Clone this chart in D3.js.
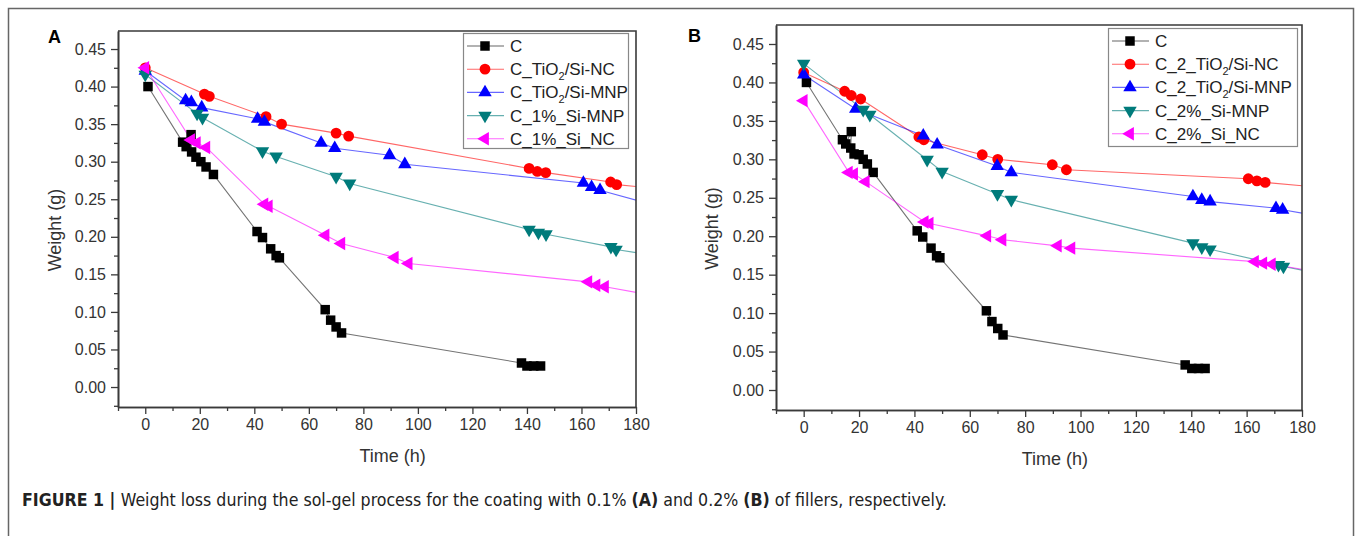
<!DOCTYPE html>
<html lang="en">
<head>
<meta charset="utf-8">
<title>Weight loss during the sol-gel process</title>
<script src="https://cdn.jsdelivr.net/npm/d3@7"></script>
<style>
  body { margin: 0; background: #fff; }
  svg { display: block; font-family: "Liberation Sans", Arial, sans-serif; }
</style>
</head>
<body>
<script>
// ---- data (time in h, weight in g) ----
// points past t=180 are off the plot; they only carry the line to the frame edge
var seriesColors = ["#000000", "#ff0000", "#0000ff", "#007b7b", "#ff00ff"];
var seriesSymbols = ["square", "circle", "up", "down", "left"];

var labelsA = ["C", "C_TiO{2}/Si-NC", "C_TiO{2}/Si-MNP", "C_1%_Si-MNP", "C_1%_Si_NC"];
var labelsB = ["C", "C_2_TiO{2}/Si-NC", "C_2_TiO{2}/Si-MNP", "C_2%_Si-MNP", "C_2%_Si_NC"];

var A_C = [[1,0.400],[13.7,0.326],[15,0.320],[16.8,0.336],[17,0.313],[18.6,0.306],[20.4,0.300],
           [22.3,0.293],[25,0.283],[41,0.207],[43,0.199],[46,0.184],[48,0.175],[49.2,0.172],
           [66,0.103],[68,0.089],[70,0.080],[72,0.072],[138,0.032],[140,0.028],[142.5,0.028],[145,0.028]];
var A_TiO2_NC = [[0,0.425],[21.7,0.390],[23.5,0.387],[44.3,0.360],[50,0.350],[70,0.338],[74.6,0.334],
                 [140.8,0.291],[143.8,0.287],[146.9,0.2855],[170.7,0.273],[172.9,0.2695],[190,0.2635]];
var A_TiO2_MNP = [[0,0.421],[14.8,0.3816],[16.9,0.379],[20.7,0.372],[41.2,0.357],[43.7,0.353],
                  [64.5,0.325],[69.5,0.318],[89.6,0.3085],[95.2,0.2965],[160.7,0.2717],[163.7,0.266],
                  [166.8,0.262],[190,0.239]];
var A_1_MNP = [[0,0.416],[19,0.364],[21,0.3586],[43,0.314],[48,0.307],[70,0.280],[75,0.271],
               [140.8,0.2097],[144.2,0.2057],[147,0.2035],[170.8,0.1866],[172.7,0.183],[190,0.1735]];
var A_1_NC = [[0,0.425],[16.8,0.329],[18.9,0.325],[22.4,0.319],[43.7,0.2434],[45.3,0.2407],
              [66.1,0.202],[71.9,0.191],[91.5,0.1725],[96.6,0.1645],[162.5,0.140],[165.5,0.1356],
              [168.6,0.1334],[190,0.1195]];

var B_C = [[1,0.400],[14,0.3255],[15.2,0.320],[17.2,0.336],[17,0.3147],[18.2,0.307],[20,0.306],
           [21.5,0.300],[23,0.294],[25.1,0.283],[41,0.207],[43,0.199],[46,0.1845],[48,0.1745],
           [49.2,0.172],[66,0.103],[68,0.089],[70.1,0.080],[72,0.0716],[137.8,0.0326],[140.2,0.028],
           [142.6,0.028],[145,0.028]];
var B_TiO2_NC = [[0,0.413],[14.8,0.3885],[17.2,0.383],[20.6,0.3785],[41.6,0.329],[43.4,0.3255],
                 [64.5,0.306],[70.1,0.300],[89.8,0.293],[94.9,0.2865],[160.6,0.2747],[163.7,0.272],
                 [166.7,0.270],[190,0.2623]];
var B_TiO2_MNP = [[0,0.410],[18.8,0.3655],[43.2,0.3307],[48.2,0.319],[69.9,0.2912],[75,0.283],
                  [140.6,0.2517],[143.8,0.247],[146.8,0.245],[170.6,0.2365],[173,0.2344],[190,0.2237]];
var B_2_MNP = [[0,0.4245],[21.5,0.3646],[23.9,0.358],[44.6,0.2995],[50,0.284],[70,0.255],[75,0.2475],
               [140.6,0.191],[143.8,0.1858],[146.8,0.183],[171.5,0.1628],[173.3,0.1606],[190,0.149]];
var B_2_NC = [[0,0.3763],[16.3,0.283],[18.2,0.281],[22.4,0.271],[43.7,0.2185],[45.5,0.2165],
              [66.3,0.2005],[71.8,0.1955],[91.8,0.1875],[96.7,0.1845],[163,0.167],[166,0.165],
              [169.1,0.1635],[190,0.151]];

var xTicks = [0, 20, 40, 60, 80, 100, 120, 140, 160, 180];
var xMinorTicks = [-10, 10, 30, 50, 70, 90, 110, 130, 150, 170];
var yTicks = [0, 0.05, 0.10, 0.15, 0.20, 0.25, 0.30, 0.35, 0.40, 0.45];
var yMinorTicks = [-0.025, 0.025, 0.075, 0.125, 0.175, 0.225, 0.275, 0.325, 0.375, 0.425];

var captionParts = [
  ["FIGURE 1 | ", true], ["Weight loss during the sol-gel process for the coating with 0.1% ", false],
  ["(A)", true], [" and 0.2% ", false], ["(B)", true], [" of fillers, respectively.", false]
];

// ---- layout ----
var W = 1357, H = 536;
var svg = d3.select("body").append("svg").attr("width", W).attr("height", H);

// outer frame of the figure
svg.append("rect").attr("x", 8.5).attr("y", 8.5).attr("width", 1345).attr("height", 560)
   .attr("fill", "none").attr("stroke", "#666").attr("stroke-width", 1.5);

var panels = [
  { id: "A", series: [A_C, A_TiO2_NC, A_TiO2_MNP, A_1_MNP, A_1_NC], labels: labelsA,
    left: 118, right: 636, top: 31, bottom: 407, yDom: [-0.0266, 0.474],
    letterX: 48, letterY: 43, yTitleX: 61, xTitleY: 462,
    legend: { x: 463, y: 33, w: 165, h: 115 } },
  { id: "B", series: [B_C, B_TiO2_NC, B_TiO2_MNP, B_2_MNP, B_2_NC], labels: labelsB,
    left: 776, right: 1302, top: 25, bottom: 410, yDom: [-0.026, 0.4747],
    letterX: 688, letterY: 42, yTitleX: 718, xTitleY: 465,
    legend: { x: 1108, y: 28, w: 189, h: 118 } }
];

var symbolPath = function(kind) {
  var type = kind === "square" ? d3.symbolSquare : kind === "circle" ? d3.symbolCircle : d3.symbolTriangle;
  var size = kind === "square" ? 90 : kind === "circle" ? 92 : 78;
  return d3.symbol().type(type).size(size)();
};
var symbolRotate = function(kind) {
  return kind === "down" ? 180 : kind === "left" ? -90 : 0;
};

// write "C_TiO{2}/Si-NC" with the braced part as a subscript
var writeLabel = function(textSel, label) {
  var parts = label.split(/[{}]/);
  parts.forEach(function(p, i) {
    if (!p) return;
    var t = textSel.append("tspan").text(p);
    if (i % 2 === 1) {
      t.attr("font-size", "11px").attr("dy", 5);
    } else if (i > 0) {
      t.attr("dy", -5);
    }
  });
};

panels.forEach(function(p) {
  var g = svg.append("g");

  var x = d3.scaleLinear().domain([-10, 180]).range([p.left, p.right]);
  var y = d3.scaleLinear().domain(p.yDom).range([p.bottom, p.top]);

  var clipId = "clip" + p.id;
  svg.append("clipPath").attr("id", clipId).append("rect")
     .attr("x", p.left).attr("y", p.top)
     .attr("width", p.right - p.left).attr("height", p.bottom - p.top);

  // series: line then markers, drawn in legend order
  var plot = g.append("g").attr("clip-path", "url(#" + clipId + ")");
  var line = d3.line().x(function(d) { return x(d[0]); }).y(function(d) { return y(d[1]); });

  p.series.forEach(function(data, i) {
    plot.append("path")
        .attr("d", line(data))
        .attr("fill", "none")
        .attr("stroke", seriesColors[i])
        .attr("stroke-opacity", i === 0 ? 0.55 : 0.6)
        .attr("stroke-width", 1.1);
  });
  p.series.forEach(function(data, i) {
    var kind = seriesSymbols[i];
    plot.selectAll(null)
        .data(data)
        .enter()
        .append("path")
        .attr("d", symbolPath(kind))
        .attr("transform", function(d) {
          return "translate(" + x(d[0]) + "," + y(d[1]) + ") rotate(" + symbolRotate(kind) + ")";
        })
        .attr("fill", seriesColors[i]);
  });

  // axes
  var axisColor = "#3a3a3a";
  g.append("g").attr("transform", "translate(0," + p.bottom + ")")
     .call(d3.axisBottom(x).tickValues(xTicks).tickSize(7).tickSizeOuter(0).tickPadding(5));
  g.append("g").attr("transform", "translate(0," + p.bottom + ")")
     .call(d3.axisBottom(x).tickValues(xMinorTicks).tickSize(4).tickSizeOuter(0).tickFormat(""));
  g.append("g").attr("transform", "translate(" + p.left + ",0)")
     .call(d3.axisLeft(y).tickValues(yTicks).tickSize(7).tickSizeOuter(0).tickPadding(5)
             .tickFormat(d3.format(".2f")));
  g.append("g").attr("transform", "translate(" + p.left + ",0)")
     .call(d3.axisLeft(y).tickValues(yMinorTicks).tickSize(4).tickSizeOuter(0).tickFormat(""));

  g.selectAll(".domain").attr("stroke", axisColor).attr("stroke-width", 1.6);
  g.selectAll(".tick line").attr("stroke", axisColor).attr("stroke-width", 1.3);
  g.selectAll(".tick text").attr("fill", "#333").attr("font-size", "16px")
   .attr("font-family", "'Liberation Sans', Arial, sans-serif");

  // top and right frame of the plot
  g.append("path")
   .attr("d", "M" + p.left + "," + p.top + "H" + p.right + "V" + p.bottom)
   .attr("fill", "none").attr("stroke", axisColor).attr("stroke-width", 1.6);

  // titles
  g.append("text").attr("x", p.letterX).attr("y", p.letterY)
   .attr("font-size", "18px").attr("font-weight", "bold").attr("fill", "#000").text(p.id);
  g.append("text")
   .attr("transform", "translate(" + p.yTitleX + "," + ((p.top + p.bottom) / 2 + 11) + ") rotate(-90)")
   .attr("text-anchor", "middle").attr("font-size", "18px").attr("fill", "#333").text("Weight (g)");
  g.append("text").attr("x", (x(0) + x(180)) / 2 + 2).attr("y", p.xTitleY)
   .attr("text-anchor", "middle").attr("font-size", "18px").attr("fill", "#333").text("Time (h)");

  // legend
  var L = p.legend;
  var lg = g.append("g");
  lg.append("rect").attr("x", L.x + 0.5).attr("y", L.y + 0.5).attr("width", L.w).attr("height", L.h)
    .attr("fill", "#fff").attr("stroke", "#888").attr("stroke-width", 1.2);
  p.labels.forEach(function(lab, i) {
    var cy = L.y + 13 + i * 23.2;
    lg.append("line").attr("x1", L.x + 4).attr("x2", L.x + 41).attr("y1", cy).attr("y2", cy)
      .attr("stroke", seriesColors[i]).attr("stroke-opacity", 0.6).attr("stroke-width", 1.1);
    var kind = seriesSymbols[i];
    lg.append("path").attr("d", symbolPath(kind))
      .attr("transform", "translate(" + (L.x + 22) + "," + cy + ") rotate(" + symbolRotate(kind) + ")")
      .attr("fill", seriesColors[i]);
    var t = lg.append("text").attr("x", L.x + 47).attr("y", cy + 6)
      .attr("font-size", "17px").attr("fill", "#222");
    writeLabel(t, lab);
  });
});

// caption
var cap = svg.append("text").attr("x", 22).attr("y", 506)
  .attr("font-family", "'Liberation Sans Narrow', 'DejaVu Sans Condensed', 'Liberation Sans', sans-serif")
  .attr("font-size", "16px").attr("fill", "#222");
captionParts.forEach(function(c) {
  cap.append("tspan").attr("font-weight", c[1] ? "bold" : "normal").text(c[0]);
});
// fit the caption to the width it has in the figure
var capW = cap.node().getComputedTextLength();
cap.attr("font-size", (16 * 925 / capW).toFixed(2) + "px");
</script>
</body>
</html>
